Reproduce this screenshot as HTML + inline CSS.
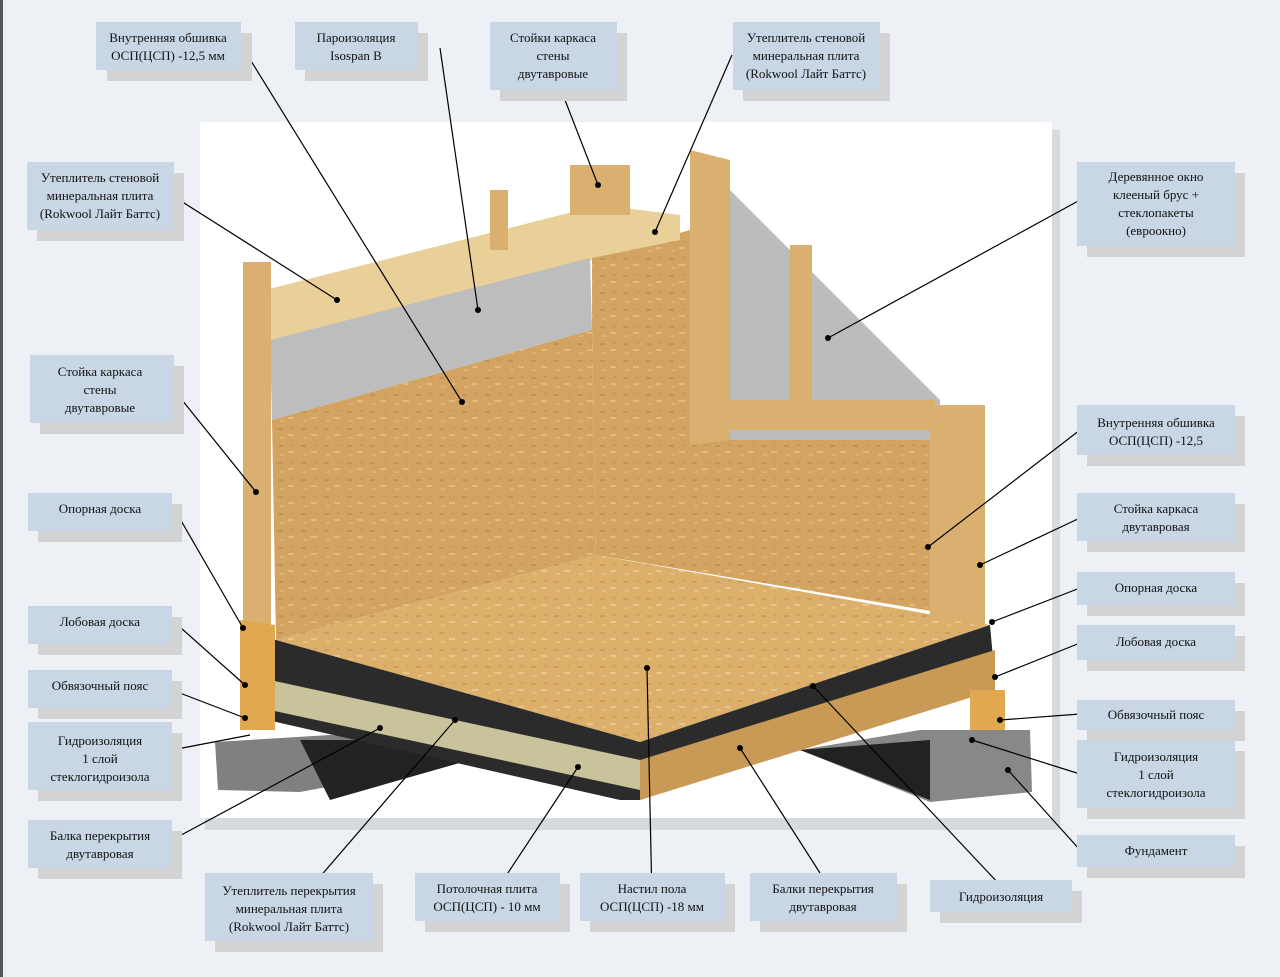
<!DOCTYPE html>
<html><head><meta charset="utf-8"><style>
html,body{margin:0;padding:0;background:#edf1f6;}
svg{display:block}
text{font-family:"Liberation Serif",serif;font-size:13px;fill:#111;text-anchor:middle}
</style></head><body>
<svg width="1280" height="977" viewBox="0 0 1280 977" xmlns="http://www.w3.org/2000/svg">
<defs>
<pattern id="osb" width="23" height="17" patternUnits="userSpaceOnUse">
<rect width="23" height="17" fill="#d2a361"/><rect x="2" y="3" width="5" height="2" fill="#c29155"/><rect x="12" y="9" width="6" height="2" fill="#dfbb80"/><rect x="15" y="2" width="3" height="2" fill="#c8995a"/><rect x="4" y="12" width="4" height="2" fill="#dab274"/></pattern>
<pattern id="osbf" width="23" height="17" patternUnits="userSpaceOnUse">
<rect width="23" height="17" fill="#dcaf6b"/><rect x="2" y="3" width="5" height="2" fill="#cc9d5e"/><rect x="12" y="9" width="6" height="2" fill="#e8c78e"/><rect x="15" y="2" width="3" height="2" fill="#d0a263"/><rect x="4" y="12" width="4" height="2" fill="#e4bf82"/></pattern>
</defs>
<rect x="0" y="0" width="3" height="977" fill="#555"/>
<rect x="205" y="130" width="855" height="700" fill="#d6d9de"/>
<rect x="200" y="122" width="852" height="696" fill="#fff"/>
<!-- foundation -->
<polygon points="215,742 330,735 470,740 470,760 300,792 218,790" fill="#808080"/>
<polygon points="300,740 470,740 470,760 330,800" fill="#222"/>
<polygon points="800,750 920,730 1030,730 1032,792 930,802" fill="#888"/>
<polygon points="800,750 930,740 930,800" fill="#222"/>
<!-- left wall -->
<polygon points="265,290 600,205 600,258 270,340" fill="#e9cf98"/>
<polygon points="270,340 590,258 592,330 272,420" fill="#bdbdbd"/>
<polygon points="272,420 592,330 596,555 276,640" fill="url(#osb)"/>
<!-- right wall -->
<polygon points="592,258 690,230 690,440 930,440 930,420 985,440 985,620 596,555 592,330" fill="url(#osb)"/>
<polygon points="600,205 680,215 680,240 592,258" fill="#e9cf98"/>
<polygon points="700,160 940,400 940,440 700,440" fill="#bcbcbc"/>
<polygon points="690,150 730,160 730,440 690,445" fill="#d9b070"/>
<rect x="700" y="400" width="235" height="30" fill="#d9b070"/>
<rect x="790" y="245" width="22" height="160" fill="#d9b070"/>
<rect x="930" y="405" width="55" height="220" fill="#d9b070"/>
<!-- left posts -->
<rect x="243" y="262" width="28" height="380" fill="#d9b070"/>
<rect x="490" y="190" width="18" height="60" fill="#d9b070"/>
<rect x="570" y="165" width="60" height="50" fill="#d9b070"/>
<!-- floor -->
<polygon points="276,640 596,555 990,625 640,742" fill="url(#osbf)"/>
<polygon points="240,630 276,640 640,742 640,800 620,800 245,715" fill="#2b2b2b"/>
<polygon points="270,680 640,760 640,790 270,710" fill="#c8c39a"/>
<polygon points="640,742 990,625 995,680 640,800" fill="#2b2b2b"/>
<polygon points="640,760 995,650 995,690 640,800" fill="#c89a55"/>
<polygon points="240,620 275,625 275,730 240,730" fill="#e0a850"/>
<polygon points="970,690 1005,690 1005,730 970,730" fill="#e0a850"/>
<!-- lines -->
<g stroke="#000" stroke-width="1.2" fill="none">
<path d="M243,48 L462,402"/><path d="M440,48 L478,310"/><path d="M565,100 L598,185"/>
<path d="M732,55 L655,232"/><path d="M173,196 L337,300"/><path d="M182,400 L256,492"/>
<path d="M172,505 L243,628"/><path d="M172,620 L245,685"/><path d="M172,690 L245,718"/>
<path d="M172,750 L250,735"/><path d="M172,840 L380,728"/><path d="M300,900 L455,720"/>
<path d="M490,900 L578,767"/><path d="M652,900 L647,668"/><path d="M820,873 L740,748"/>
<path d="M1000,885 L813,686"/><path d="M1080,200 L828,338"/><path d="M1080,430 L928,547"/>
<path d="M1080,518 L980,565"/><path d="M1080,588 L992,622"/><path d="M1080,643 L995,677"/>
<path d="M1080,714 L1000,720"/><path d="M1080,774 L972,740"/><path d="M1080,850 L1008,770"/>
</g>
<g fill="#000">
<circle cx="462" cy="402" r="3"/><circle cx="478" cy="310" r="3"/><circle cx="598" cy="185" r="3"/><circle cx="655" cy="232" r="3"/><circle cx="337" cy="300" r="3"/><circle cx="256" cy="492" r="3"/><circle cx="243" cy="628" r="3"/><circle cx="245" cy="685" r="3"/><circle cx="245" cy="718" r="3"/><circle cx="380" cy="728" r="3"/><circle cx="455" cy="720" r="3"/><circle cx="578" cy="767" r="3"/><circle cx="647" cy="668" r="3"/><circle cx="740" cy="748" r="3"/><circle cx="813" cy="686" r="3"/><circle cx="828" cy="338" r="3"/><circle cx="928" cy="547" r="3"/><circle cx="980" cy="565" r="3"/><circle cx="992" cy="622" r="3"/><circle cx="995" cy="677" r="3"/><circle cx="1000" cy="720" r="3"/><circle cx="972" cy="740" r="3"/><circle cx="1008" cy="770" r="3"/>
</g>
<g fill="#d3d3d3">
<rect x="107" y="33" width="145" height="48"/><rect x="305" y="33" width="123" height="48"/><rect x="500" y="33" width="127" height="68"/><rect x="743" y="33" width="147" height="68"/>
<rect x="37" y="173" width="147" height="68"/><rect x="40" y="366" width="144" height="68"/><rect x="38" y="504" width="144" height="38"/><rect x="38" y="617" width="144" height="38"/><rect x="38" y="681" width="144" height="38"/><rect x="38" y="733" width="144" height="68"/><rect x="38" y="831" width="144" height="48"/>
<rect x="215" y="884" width="168" height="68"/><rect x="425" y="884" width="145" height="48"/><rect x="590" y="884" width="145" height="48"/><rect x="760" y="884" width="147" height="48"/><rect x="940" y="891" width="142" height="32"/>
<rect x="1087" y="173" width="158" height="84"/><rect x="1087" y="416" width="158" height="50"/><rect x="1087" y="504" width="158" height="48"/><rect x="1087" y="583" width="158" height="33"/><rect x="1087" y="636" width="158" height="35"/><rect x="1087" y="711" width="158" height="30"/><rect x="1087" y="751" width="158" height="68"/><rect x="1087" y="846" width="158" height="32"/>
</g>
<g fill="#c9d6e5">
<rect x="96" y="22" width="145" height="48"/><rect x="295" y="22" width="123" height="48"/><rect x="490" y="22" width="127" height="68"/><rect x="733" y="22" width="147" height="68"/>
<rect x="27" y="162" width="147" height="68"/><rect x="30" y="355" width="144" height="68"/><rect x="28" y="493" width="144" height="38"/><rect x="28" y="606" width="144" height="38"/><rect x="28" y="670" width="144" height="38"/><rect x="28" y="722" width="144" height="68"/><rect x="28" y="820" width="144" height="48"/>
<rect x="205" y="873" width="168" height="68"/><rect x="415" y="873" width="145" height="48"/><rect x="580" y="873" width="145" height="48"/><rect x="750" y="873" width="147" height="48"/><rect x="930" y="880" width="142" height="32"/>
<rect x="1077" y="162" width="158" height="84"/><rect x="1077" y="405" width="158" height="50"/><rect x="1077" y="493" width="158" height="48"/><rect x="1077" y="572" width="158" height="33"/><rect x="1077" y="625" width="158" height="35"/><rect x="1077" y="700" width="158" height="30"/><rect x="1077" y="740" width="158" height="68"/><rect x="1077" y="835" width="158" height="32"/>
</g>
<text x="168" y="42">Внутренняя обшивка</text><text x="168" y="60">ОСП(ЦСП) -12,5 мм</text>
<text x="356" y="42">Пароизоляция</text><text x="356" y="60">Isospan B</text>
<text x="553" y="42">Стойки каркаса</text><text x="553" y="60">стены</text><text x="553" y="78">двутавровые</text>
<text x="806" y="42">Утеплитель стеновой</text><text x="806" y="60">минеральная плита</text><text x="806" y="78">(Rokwool Лайт Баттс)</text>
<text x="100" y="182">Утеплитель стеновой</text><text x="100" y="200">минеральная плита</text><text x="100" y="218">(Rokwool Лайт Баттс)</text>
<text x="100" y="376">Стойка каркаса</text><text x="100" y="394">стены</text><text x="100" y="412">двутавровые</text>
<text x="100" y="513">Опорная доска</text>
<text x="100" y="626">Лобовая доска</text>
<text x="100" y="690">Обвязочный пояс</text>
<text x="100" y="745">Гидроизоляция</text><text x="100" y="763">1 слой</text><text x="100" y="781">стеклогидроизола</text>
<text x="100" y="840">Балка перекрытия</text><text x="100" y="858">двутавровая</text>
<text x="289" y="895">Утеплитель перекрытия</text><text x="289" y="913">минеральная плита</text><text x="289" y="931">(Rokwool Лайт Баттс)</text>
<text x="487" y="893">Потолочная плита</text><text x="487" y="911">ОСП(ЦСП) - 10 мм</text>
<text x="652" y="893">Настил пола</text><text x="652" y="911">ОСП(ЦСП) -18 мм</text>
<text x="823" y="893">Балки перекрытия</text><text x="823" y="911">двутавровая</text>
<text x="1001" y="901">Гидроизоляция</text>
<text x="1156" y="181">Деревянное окно</text><text x="1156" y="199">клееный брус +</text><text x="1156" y="217">стеклопакеты</text><text x="1156" y="235">(евроокно)</text>
<text x="1156" y="427">Внутренняя обшивка</text><text x="1156" y="445">ОСП(ЦСП) -12,5</text>
<text x="1156" y="513">Стойка каркаса</text><text x="1156" y="531">двутавровая</text>
<text x="1156" y="592">Опорная доска</text>
<text x="1156" y="646">Лобовая доска</text>
<text x="1156" y="719">Обвязочный пояс</text>
<text x="1156" y="761">Гидроизоляция</text><text x="1156" y="779">1 слой</text><text x="1156" y="797">стеклогидроизола</text>
<text x="1156" y="855">Фундамент</text>
</svg>
</body></html>
